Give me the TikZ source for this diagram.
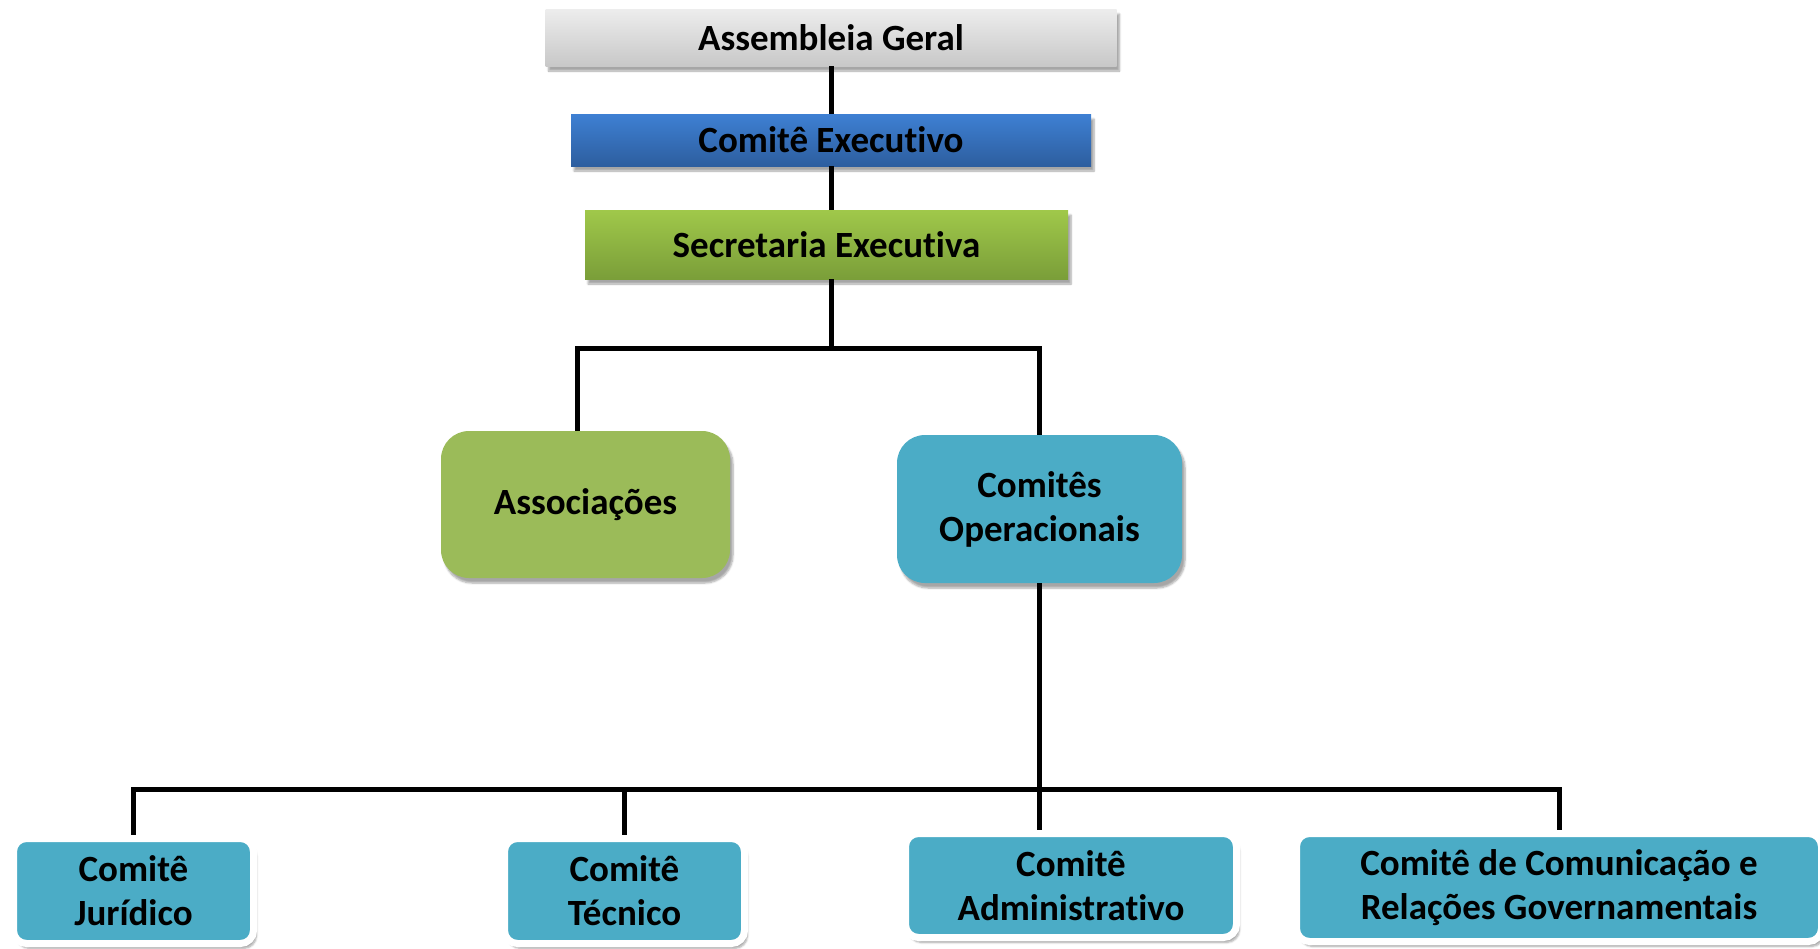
\documentclass[tikz,border=0pt]{standalone}
\usepackage{fontspec}
\setmainfont{Carlito}[Ligatures=NoCommon]
\usetikzlibrary{shadows.blur}

\definecolor{greytop}{HTML}{EDEDED}
\definecolor{greybot}{HTML}{C8C8C8}
\definecolor{bluetop}{HTML}{3E80D3}
\definecolor{bluebot}{HTML}{2D5E9F}
\definecolor{greentop}{HTML}{A0C84A}
\definecolor{greenbot}{HTML}{7A9E39}
\definecolor{assocgreen}{HTML}{9BBB59}
\definecolor{boxteal}{HTML}{4BACC6}

\begin{document}
\begin{tikzpicture}[x=1pt, y=1pt,
    every node/.style={font=\fontsize{37}{44}\selectfont\bfseries, align=center, inner sep=0pt},
    soft/.style={blur shadow={shadow xshift=3pt, shadow yshift=-5pt, shadow blur steps=6, shadow opacity=35}},
    bar/.style={soft},
    unit/.style={soft, rounded corners=28pt},
    sub/.style={soft, rounded corners=13pt, fill=boxteal, draw=white, line width=7pt},
    link/.style={line width=5pt}]
    \useasboundingbox (0,0) rectangle (1820,-948);

    \node[bar, top color=greytop, bottom color=greybot, minimum width=571pt, minimum height=57pt] (ag) at (831,-37.5) {Assembleia Geral};
    \node[bar, top color=bluetop, bottom color=bluebot, minimum width=520pt, minimum height=52pt] (ce) at (831,-140) {Comitê Executivo};
    \node[bar, top color=greentop, bottom color=greenbot, minimum width=483pt, minimum height=69pt] (se) at (826.5,-244.5) {Secretaria Executiva};

    \node[unit, fill=assocgreen, minimum width=289pt, minimum height=147pt] (as) at (585.5,-504.5) {Associações};
    \node[unit, fill=boxteal, minimum width=285pt, minimum height=148pt] (co) at (1039.5,-509) {Comitês\\Operacionais};

    \node[sub, minimum width=240pt, minimum height=105pt] (cj) at (133.5,-891) {Comitê\\Jurídico};
    \node[sub, minimum width=240pt, minimum height=105pt] (ct) at (624.5,-891) {Comitê\\Técnico};
    \node[sub, minimum width=331pt, minimum height=104pt] (ca) at (1071,-885.5) {Comitê\\Administrativo};
    \node[sub, minimum width=525pt, minimum height=108pt] (cc) at (1559,-887.5) {Comitê de Comunicação e\\Relações Governamentais};

    \coordinate (hub) at (831,-348);
    \coordinate (base) at (1039.5,-789);

    \draw[link] (ag.south) -- (ce.north);
    \draw[link] (ce.south) -- (ce.south |- se.north);
    \draw[link] (ce.south |- se.south) -- (hub);
    \draw[link] (hub) -| ([xshift=-8pt]as.north);
    \draw[link] (hub) -| (co.north);

    \draw[link] (co.south) -- (base);
    \foreach \k in {cj, ct, cc}
        \draw[link] (base) -| (\k.north);
    \draw[link] (base) -- (base |- ca.north);
\end{tikzpicture}
\end{document}
